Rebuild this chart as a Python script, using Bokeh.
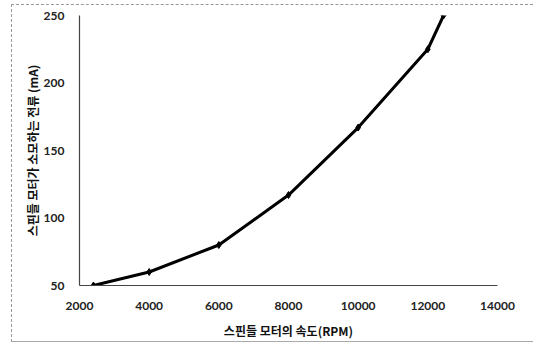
from bokeh.plotting import figure
from bokeh.models import Range1d, FixedTicker
from bokeh.embed import file_html
from bokeh.resources import INLINE

# Data
rpm = [2400, 4000, 6000, 8000, 10000, 12000, 12450]
current_ma = [50, 60, 80, 117, 167, 225, 250]

x_ticks = [2000, 4000, 6000, 8000, 10000, 12000, 14000]
y_ticks = [50, 100, 150, 200, 250]

x_label = "스핀들 모터의 속도(RPM)"
y_label = "스핀들 모터가 소모하는 전류 (mA)"

p = figure(frame_width=418, frame_height=270, output_backend="svg", toolbar_location=None,
           x_range=Range1d(2000, 14000), y_range=Range1d(50, 250),
           min_border_left=67, min_border_right=36, min_border_top=10, min_border_bottom=56)
p.styles = {"margin-left": "11px", "margin-top": "4px",
            "border-left": "1px dashed #999999", "border-top": "1px dashed #999999",
            "border-bottom": "1px solid #aaaaaa"}

p.grid.visible = False
p.outline_line_color = None
p.background_fill_color = "white"
p.border_fill_color = "white"

p.xaxis.ticker = FixedTicker(ticks=x_ticks)
p.yaxis.ticker = FixedTicker(ticks=y_ticks)

for ax in (p.xaxis[0], p.yaxis[0]):
    ax.axis_line_color = "#444444"
    ax.axis_line_width = 1.2
    ax.major_tick_line_color = None
    ax.minor_tick_line_color = None
    ax.major_label_text_font = "Lato"
    ax.major_label_text_font_size = "12px"
    ax.major_label_text_font_style = "bold"
    ax.major_label_text_color = "#222222"
    ax.axis_label_text_font = "Noto Sans CJK KR"
    ax.axis_label_text_font_size = "12px"
    ax.axis_label_text_font_style = "bold"
    ax.axis_label_text_color = "#111111"

p.xaxis.axis_label = x_label
p.yaxis.axis_label = y_label
p.xaxis.major_label_standoff = 10
p.yaxis.major_label_standoff = 9
p.xaxis.axis_label_standoff = 9
p.yaxis.axis_label_standoff = 0

p.line(rpm, current_ma, line_color="black", line_width=3)
p.scatter(rpm, current_ma, marker="diamond", size=7, fill_color="black", line_color="black")

open("out.html", "w").write(file_html(p, INLINE))
